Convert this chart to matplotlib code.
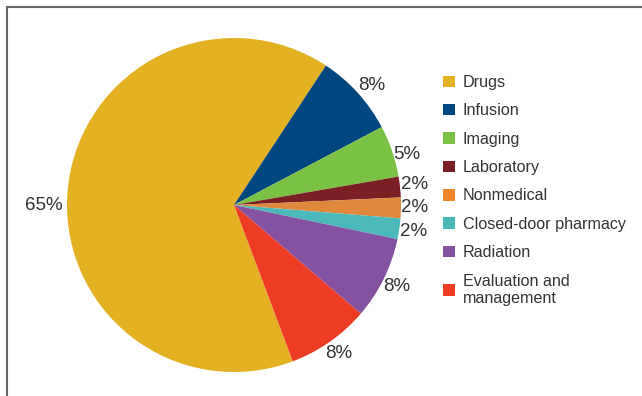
import matplotlib
matplotlib.use("Agg")
import matplotlib.pyplot as plt
from matplotlib.patches import Patch, Rectangle

plt.rcParams['font.family'] = ['Liberation Sans', 'DejaVu Sans']

categories = ["Drugs", "Infusion", "Imaging", "Laboratory", "Nonmedical",
              "Closed-door pharmacy", "Radiation", "Evaluation and\nmanagement"]
shares = [65, 8, 5, 2, 2, 2, 8, 8]
pct_labels = ["65%", "8%", "5%", "2%", "2%", "2%", "8%", "8%"]
wedge_colors = ["#E3B122", "#00467F", "#7BC143", "#7A1F23", "#DF883C",
                "#4BB8BA", "#8551A1", "#EE3B24"]
legend_colors = ["#E3B122", "#00467F", "#7BC143", "#7A1F23", "#F0852A",
                 "#4BB8BA", "#8551A1", "#EE3B24"]

# label positions around the pie (data units, radius = 1)
label_pos = [(-1.14, 0.0), (0.826, 0.713), (1.036, 0.305), (1.084, 0.12),
             (1.084, -0.012), (1.075, -0.16), (0.976, -0.486), (0.629, -0.89)]

W, H = 642, 396
fig = plt.figure(figsize=(W / 100, H / 100), dpi=100)

# outer frame (open to the right and bottom)
fig.patches.append(Rectangle((7 / W, -0.2), 2.0, (396 - 7) / H + 0.2,
                             transform=fig.transFigure, fill=False,
                             edgecolor="#666666", linewidth=1.5))

cx, cy, r = 234, 205, 167
ax = fig.add_axes([(cx - r) / W, (H - cy - r) / H, 2 * r / W, 2 * r / H])
ax.set_xlim(-1, 1)
ax.set_ylim(-1, 1)
ax.set_aspect("equal")
ax.axis("off")

wedges, texts = ax.pie(shares, colors=wedge_colors, labels=pct_labels,
                       startangle=290.6, counterclock=False,
                       wedgeprops=dict(linewidth=0),
                       textprops=dict(fontsize=13.5, color="#333333"))
ax.set_xlim(-1, 1)
ax.set_ylim(-1, 1)
for t, (x, y) in zip(texts, label_pos):
    t.set_position((x, y))
    t.set_ha("center")
    t.set_va("center")

handles = [Patch(facecolor=c, edgecolor="none") for c in legend_colors]
fig.legend(handles, categories, loc="upper left",
           bbox_to_anchor=(443 / W, 1 - 75 / H), frameon=False,
           fontsize=11.6, labelcolor="#333333",
           handlelength=0.72, handleheight=0.72, handletextpad=0.5,
           labelspacing=0.83, borderaxespad=0, borderpad=0)

fig.savefig("out.png", dpi=100)
